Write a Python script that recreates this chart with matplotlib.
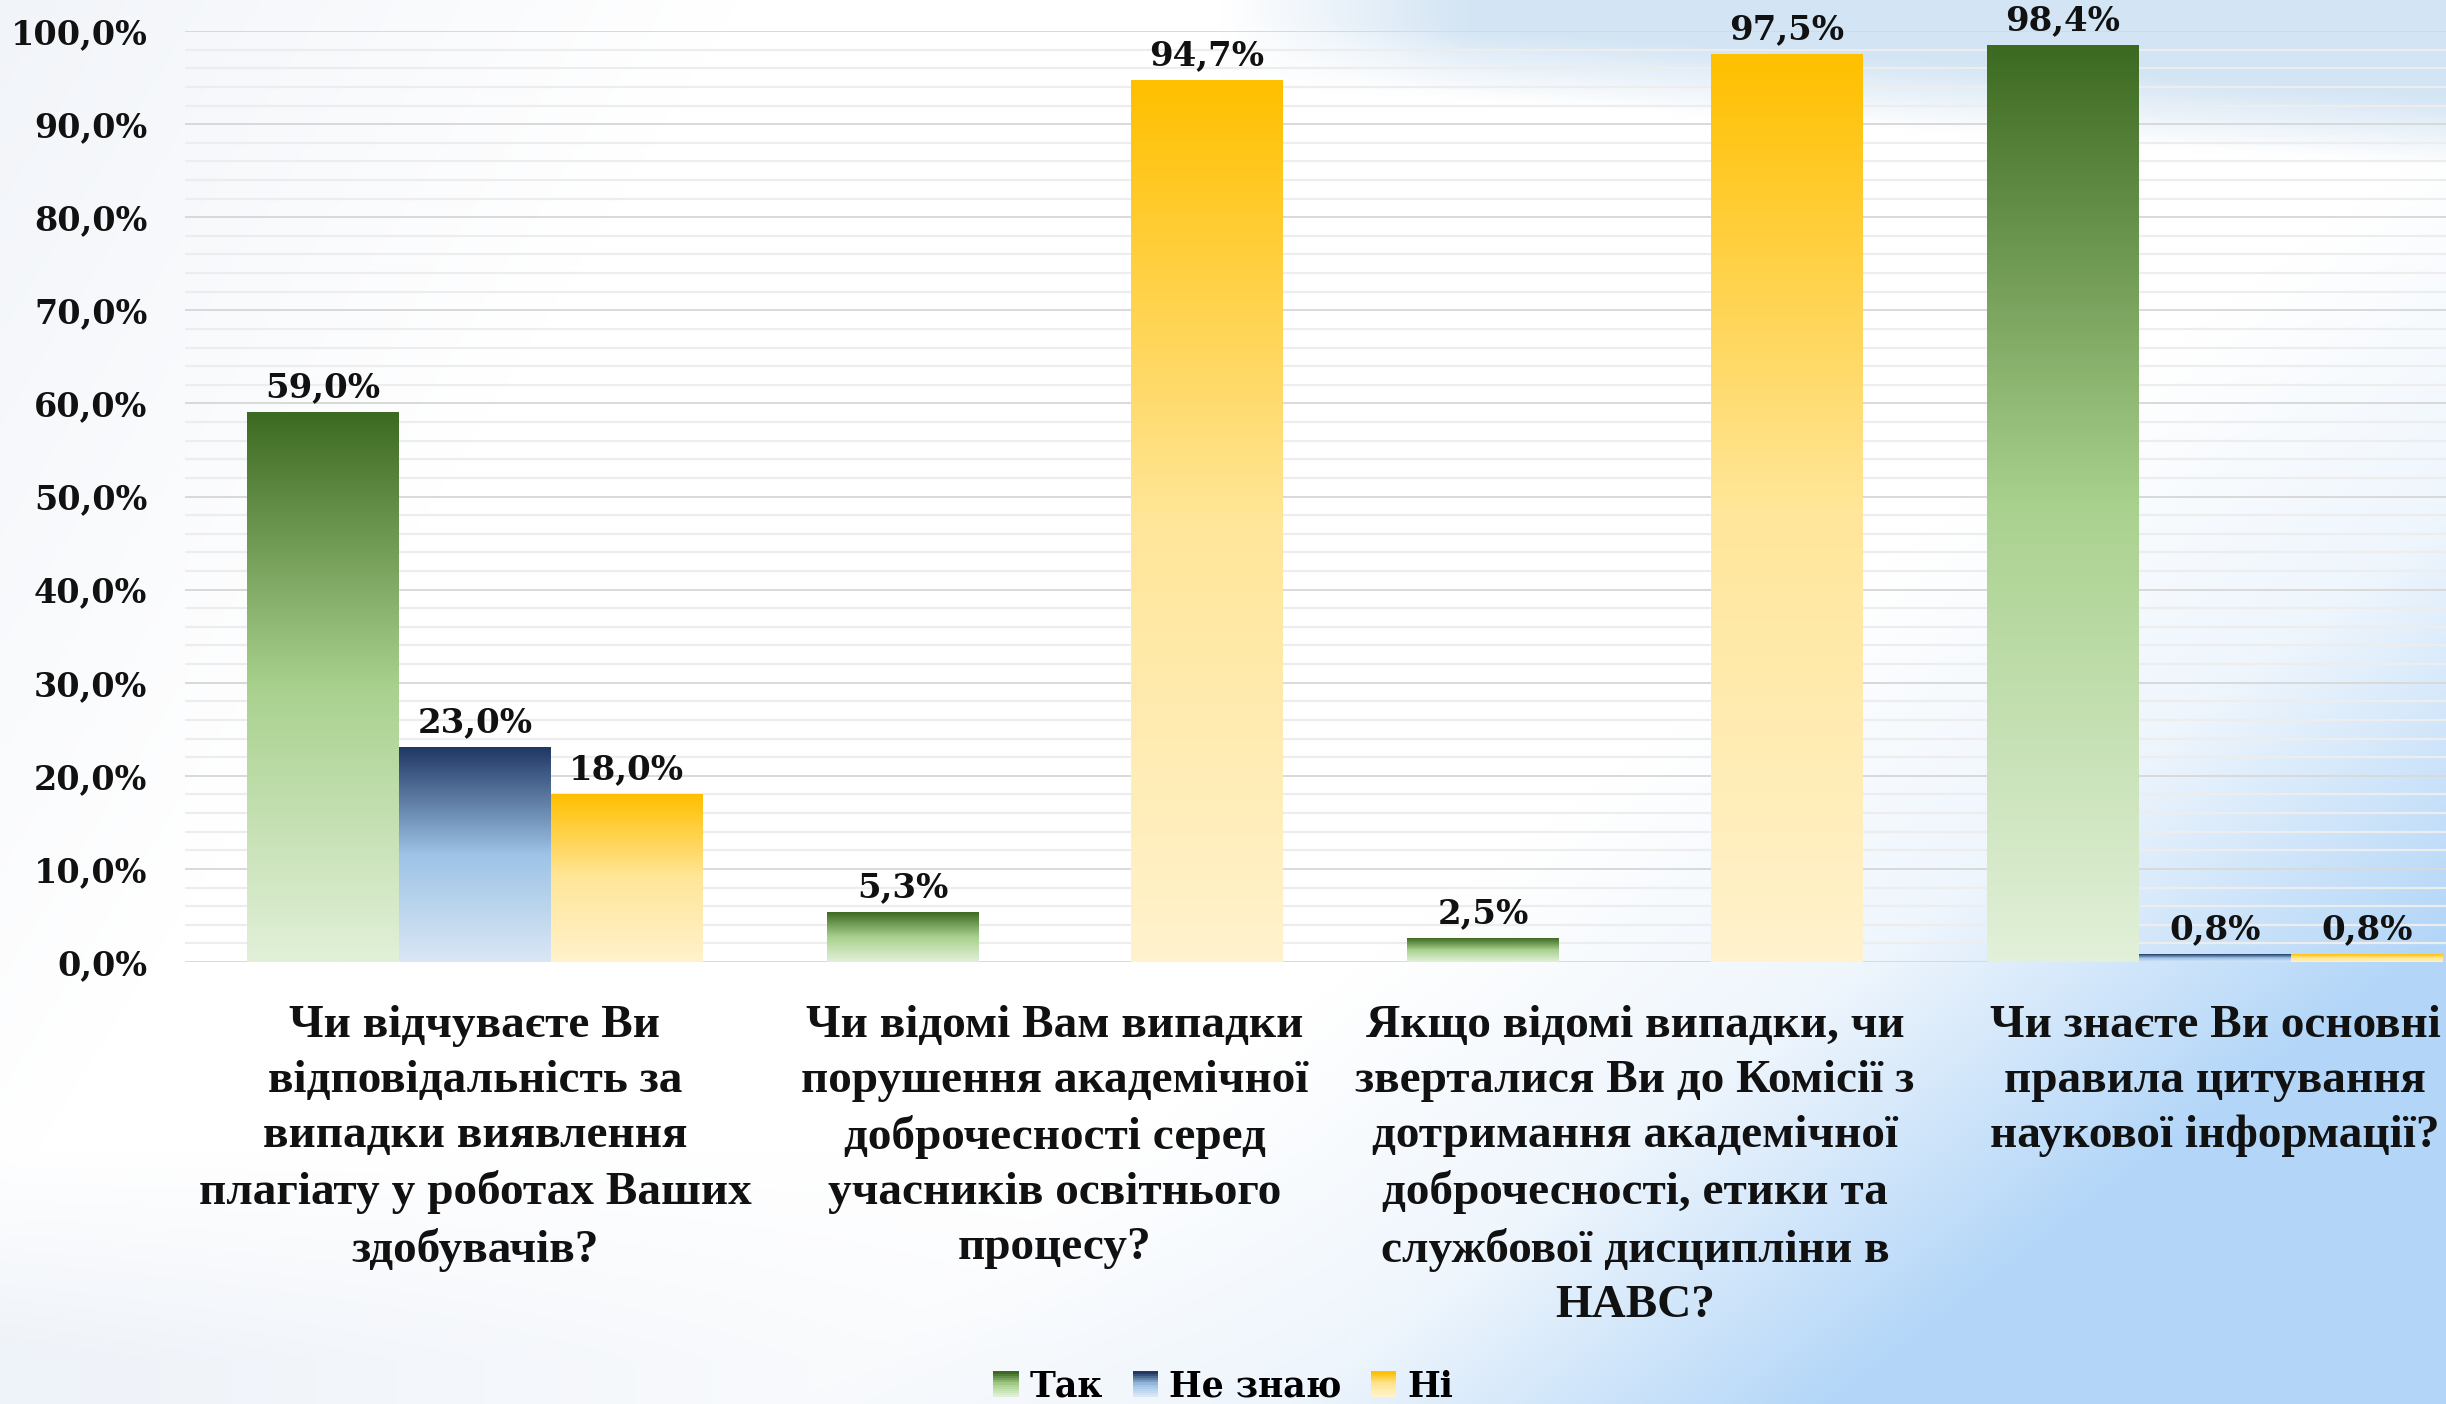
import numpy as np
import matplotlib
matplotlib.use("Agg")
import matplotlib.pyplot as plt
from matplotlib.colors import LinearSegmentedColormap, to_rgb
from matplotlib.patches import Rectangle
from matplotlib.legend_handler import HandlerBase
from matplotlib.ticker import MultipleLocator, FuncFormatter

# дані
questions = [
    "Чи відчуваєте Ви\nвідповідальність за\nвипадки виявлення\nплагіату у роботах Ваших\nздобувачів?",
    "Чи відомі Вам випадки\nпорушення академічної\nдоброчесності серед\nучасників освітнього\nпроцесу?",
    "Якщо відомі випадки, чи\nзверталися Ви до Комісії з\nдотримання академічної\nдоброчесності, етики та\nслужбової дисципліни в\nНАВС?",
    "Чи знаєте Ви основні\nправила цитування\nнаукової інформації?",
]
series_names = ["Так", "Не знаю", "Ні"]
tak = [59.0, 5.3, 2.5, 98.4]
ne_znayu = [23.0, None, None, 0.8]
ni = [18.0, 94.7, 97.5, 0.8]
y_ticks = [0, 10, 20, 30, 40, 50, 60, 70, 80, 90, 100]

# градієнти (знизу світлий -> зверху темний)
cmaps = [
    LinearSegmentedColormap.from_list("g", ["#E2F0D9", "#A9D18E", "#3D6A21"]),
    LinearSegmentedColormap.from_list("b", ["#DAE7F5", "#9DC3E6", "#203864"]),
    LinearSegmentedColormap.from_list("y", ["#FFF2CC", "#FFE699", "#FFC000"]),
]


def pct(v):
    return f"{v:.1f}".replace(".", ",") + "%"


class GradHandler(HandlerBase):
    def __init__(self, cmap):
        super().__init__()
        self.cmap = cmap

    def create_artists(self, legend, orig_handle, xdescent, ydescent,
                       width, height, fontsize, trans):
        n = 12
        s = min(width, height)
        x0 = -xdescent + (width - s) / 2
        y0 = -ydescent + (height - s) / 2
        arts = []
        for i in range(n):
            arts.append(Rectangle((x0, y0 + i * s / n), s, s / n + 0.3,
                                  facecolor=self.cmap(i / (n - 1)),
                                  edgecolor="none", transform=trans))
        return arts


def background():
    h, w = 351, 612
    x = np.linspace(0, 1, w)[None, :]
    y = np.linspace(0, 1, h)[:, None]
    img = np.ones((h, w, 3))

    def blend(img, alpha, color):
        c = np.array(to_rgb(color))
        a = np.clip(alpha, 0, 1)[..., None]
        return img * (1 - a) + c * a

    # сірувата смуга зліва зверху
    a1 = np.clip(1 - (x + 0.35 * y) / 0.3, 0, 1) * 0.6 * np.ones_like(y)
    img = blend(img, a1, "#E8EDF5")
    # блакитна смуга зверху праворуч
    a2 = np.clip((0.07 - y + 0.12 * (x - 0.6)) / 0.05, 0, 1) * np.clip((x - 0.5) / 0.1, 0, 1)
    img = blend(img, a2 * 0.9, "#CFE2F3")
    # великий блакитний клин знизу праворуч
    d = 0.8 * (x - 0.55) + 0.6 * (y - 1)
    img = blend(img, np.clip((d + 0.18) / 0.15, 0, 1) * 0.45, "#DCEBFA")
    img = blend(img, np.clip((d + 0.02) / 0.18, 0, 1), "#B3D6F8")
    # світла смуга знизу зліва
    a4 = np.clip((y - 0.82) / 0.15, 0, 1) * np.clip(1 - x / 0.55, 0, 1) * 0.5
    img = blend(img, a4, "#DDE6F3")
    return img


fig = plt.figure(figsize=(24.46, 14.04), dpi=100)

ax_bg = fig.add_axes([0, 0, 1, 1], zorder=-1)
ax_bg.imshow(background(), extent=[0, 1, 0, 1], aspect="auto", interpolation="bilinear")
ax_bg.axis("off")

ax = fig.add_axes([0.0756, 0.3148, 0.9485, 0.6631])
ax.set_facecolor("none")

w = 0.262
grad = np.linspace(0, 1, 256)[:, None]
all_series = [tak, ne_znayu, ni]
for j, vals in enumerate(all_series):
    for i, v in enumerate(vals):
        if v is None:
            continue
        xc = i + (j - 1) * w
        ax.imshow(grad, extent=[xc - w / 2, xc + w / 2, 0, v], origin="lower",
                  aspect="auto", cmap=cmaps[j], zorder=2, interpolation="bilinear")
        ax.annotate(pct(v), (xc, v), xytext=(0, 6), textcoords="offset points",
                    ha="center", va="bottom", fontsize=24.5, fontweight="bold",
                    family="DejaVu Serif", color="#111111", zorder=3)

ax.set_xlim(-0.5, 3.5)
ax.set_ylim(0, 100)
ax.set_yticks(y_ticks)
ax.yaxis.set_minor_locator(MultipleLocator(2))
ax.yaxis.set_major_formatter(FuncFormatter(lambda v, p: pct(v)))
ax.set_axisbelow(True)
ax.grid(which="major", axis="y", color="#D9D9D9", lw=1.4)
ax.grid(which="minor", axis="y", color="#EDEDED", lw=1.6)
for s in ax.spines.values():
    s.set_visible(False)
ax.tick_params(axis="both", which="both", length=0)
ax.tick_params(axis="y", pad=27)
for lab in ax.get_yticklabels():
    lab.set_family("DejaVu Serif")
    lab.set_fontweight("bold")
    lab.set_fontsize(24)
    lab.set_color("#111111")

ax.set_xticks(range(len(questions)))
ax.set_xticklabels(questions, family="Liberation Serif", fontweight="bold", fontsize=34,
                   linespacing=1.4, color="#111111")
ax.tick_params(axis="x", pad=31)

handles = [Rectangle((0, 0), 1, 1) for _ in series_names]
fig.legend(handles, series_names, loc="lower center", bbox_to_anchor=(0.5, -0.022),
           ncol=3, frameon=False, handlelength=0.75, handleheight=0.75,
           handletextpad=0.3, columnspacing=0.85,
           handler_map={h: GradHandler(c) for h, c in zip(handles, cmaps)},
           prop={"family": "DejaVu Serif", "weight": "bold", "size": 25})

fig.savefig("out.png", dpi=100)
